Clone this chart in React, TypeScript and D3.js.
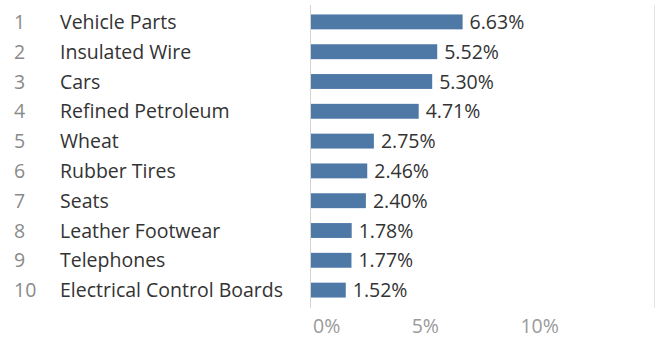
import React from 'react'
import * as d3 from 'd3'

// top-10 products, share of exports (%)
const products = [
    'Vehicle Parts',
    'Insulated Wire',
    'Cars',
    'Refined Petroleum',
    'Wheat',
    'Rubber Tires',
    'Seats',
    'Leather Footwear',
    'Telephones',
    'Electrical Control Boards',
]
const shares = [6.63, 5.52, 5.3, 4.71, 2.75, 2.46, 2.4, 1.78, 1.77, 1.52]
const ticks = [0, 5, 10]

const width = 661
const height = 340
const font = '"Open Sans", sans-serif'
const fs = 19.5

export default function App() {
    const x = d3.scaleLinear().domain([0, 15]).range([311, 654])
    const y = d3.scaleBand<string>()
        .domain(products)
        .range([7, 305])
        .paddingInner(0.5)
        .paddingOuter(0.25)

    return (
        <svg width={width} height={height}
            style={{ position: 'absolute', left: 0, top: 0, background: '#fff' }}>
            {/* axis line and right border */}
            <line x1={310.5} x2={310.5} y1={5} y2={308} stroke="#d4d4d4" />
            <line x1={654.5} x2={654.5} y1={5} y2={308} stroke="#e2e2e2" />

            {products.map((p, i) => {
                const cy = (y(p) || 0) + y.bandwidth() / 2
                return (
                    <g key={p} fontFamily={font} fontSize={fs}>
                        <text x={14} y={cy} dy="0.36em" fill="#8a8a8a">{i + 1}</text>
                        <text x={60} y={cy} dy="0.36em" fill="#333">{p}</text>
                        <rect x={x(0)} y={y(p)} width={x(shares[i]) - x(0)}
                            height={y.bandwidth()} fill="#4e79a7" />
                        <text x={x(shares[i]) + 7} y={cy} dy="0.36em" fill="#333">
                            {shares[i].toFixed(2) + '%'}
                        </text>
                    </g>
                )
            })}

            {/* x ticks: 0% sits right of the axis line, the rest centred */}
            {ticks.map(t => (
                <text key={t} x={t === 0 ? x(t) + 2 : x(t)} y={333}
                    textAnchor={t === 0 ? 'start' : 'middle'}
                    fontFamily={font} fontSize={fs} fill="#9a9a9a">
                    {t + '%'}
                </text>
            ))}
        </svg>
    )
}
